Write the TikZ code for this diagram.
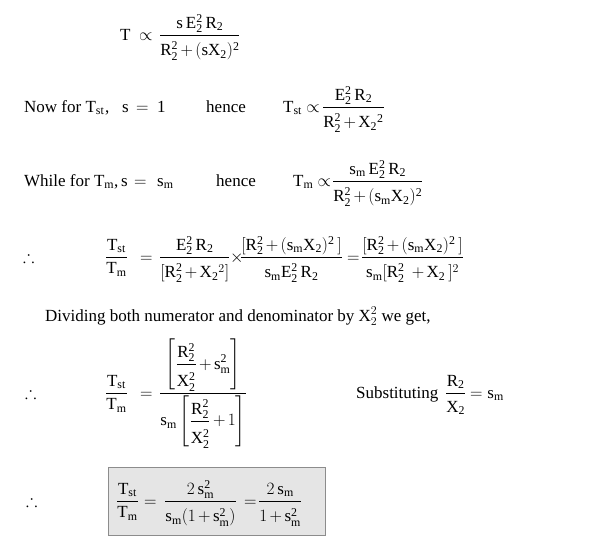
\documentclass[tikz,border=0pt]{standalone}
\usepackage{amsmath,amssymb}
\usepackage{fontspec}
\setmainfont{Liberation Serif}
\newcommand{\dn}{\rule{0pt}{1.05em}}
\newcommand{\dnb}{\rule{0pt}{1.15em}}
\begin{document}
\fontsize{17}{20}\selectfont
\medmuskip=2.5mu plus 1mu minus 1mu
\begin{tikzpicture}[x=1pt,y=-1pt,
  t/.style={anchor=base west, inner sep=0pt, font=\fontsize{17}{20}\selectfont},
  resultbox/.style={draw=black!45, fill=black!10, line width=0.8pt, inner sep=0pt}]
\useasboundingbox (0,0) rectangle (601,549);
% row 1
\node[t] (T1) at (120,40) {T};
\node[t] (p1) at (139,40) {$\propto$};
\node[t] (f1) at (159,40) {$\dfrac{\mathrm{s\,E_2^2\,R_2}}{\dn\mathrm{R_2^2+(sX_2)^2}}$};
% row 2
\node[t] (now) at (24,112) {Now for T$_{\mathrm{st}}$};
\node[t] (c2) at (105,112) {,};
\node[t] (s2) at (122,112) {s};
\node[t] (eq2) at (136,112) {$=$};
\node[t] (one) at (157,112) {1};
\node[t] (hence2) at (206,112) {hence};
\node[t] (Tst2) at (283,112) {T$_{\mathrm{st}}$ $\propto$};
\node[t] (f2) at (322,112) {$\dfrac{\mathrm{E_2^2\,R_2}}{\dn\mathrm{R_2^2+X_2{}^2}}$};
% row 3
\node[t] (while) at (24,186) {While for T$_{\mathrm{m}}$};
\node[t] (c3) at (114,186) {,};
\node[t] (s3) at (121,186) {s};
\node[t] (eq3) at (134,186) {$=$};
\node[t] (sm3) at (157,186) {s$_{\mathrm{m}}$};
\node[t] (hence3) at (216,186) {hence};
\node[t] (Tm3) at (293,186) {T$_{\mathrm{m}}$ $\propto$};
\node[t] (f3) at (332,186) {$\dfrac{\mathrm{s_m\,E_2^2\,R_2}}{\dn\mathrm{R_2^2+(s_mX_2)^2}}$};
% row 4
\node[t] (th4) at (23,262) {$\therefore$};
\node[t] (r4) at (105,262) {$\dfrac{\mathrm{T_{st}}}{\mathrm{T_m}}$};
\node[t] (eq4) at (140,262) {$=$};
\node[t] (f41) at (159,262) {$\dfrac{\mathrm{E_2^2\,R_2}}{\dn[\mathrm{R_2^2+X_2}{}^2]}$};
\node[t] (x4) at (230,262) {$\times$};
\node[t] (f42) at (240,262) {$\dfrac{[\mathrm{R_2^2+(s_mX_2)^2}\,]}{\dn\mathrm{s_mE_2^2\,R_2}}$};
\node[t] (eq42) at (347,262) {$=$};
\node[t] (f43) at (361,262) {$\dfrac{[\mathrm{R_2^2+(s_mX_2)^2}\,]}{\dn\mathrm{s_m}[\mathrm{R_2^2}\;+\mathrm{X_2}\,]^2}$};
% row 5
\node[t] (div) at (45,321) {Dividing both numerator and denominator by X$_2^2$ we get,};
% row 6
\node[t] (th6) at (25,398) {$\therefore$};
\node[t] (r6) at (105,398) {$\dfrac{\mathrm{T_{st}}}{\mathrm{T_m}}$};
\node[t] (eq6) at (140,398) {$=$};
\node[t] (f6) at (159,398) {$\dfrac{\left[\dfrac{\rule{0pt}{1.05em}\mathrm{R_2^2}}{\dnb\mathrm{X_2^2}}+\mathrm{s_m^2}\right]}{\mathrm{s_m}\left[\dfrac{\mathrm{R_2^2}}{\dnb\mathrm{X_2^2}}+1\right]}$};
\node[t] (sub) at (356,398) {Substituting};
\node[t] (f6b) at (445,398) {$\dfrac{\mathrm{R_2}}{\rule{0pt}{0.95em}\mathrm{X_2}}$};
\node[t] (eq6b) at (470,398) {$=\mathrm{s_m}$};
% row 7
\node[resultbox, minimum width=217pt, minimum height=68pt] (box) at (216.5,501) {};
\node[t] (th7) at (26,506) {$\therefore$};
\node[t] (r7) at (116,506) {$\dfrac{\mathrm{T_{st}}}{\mathrm{T_m}}$};
\node[t] (eq7) at (144,506) {$=$};
\node[t] (f71) at (164,506) {$\dfrac{2\,\mathrm{s_m^2}}{\dn\mathrm{s_m}(1+\mathrm{s_m^2})}$};
\node[t] (eq72) at (244,506) {$=$};
\node[t] (f72) at (258,506) {$\dfrac{2\,\mathrm{s_m}}{\dn1+\mathrm{s_m^2}}$};
\end{tikzpicture}
\end{document}
